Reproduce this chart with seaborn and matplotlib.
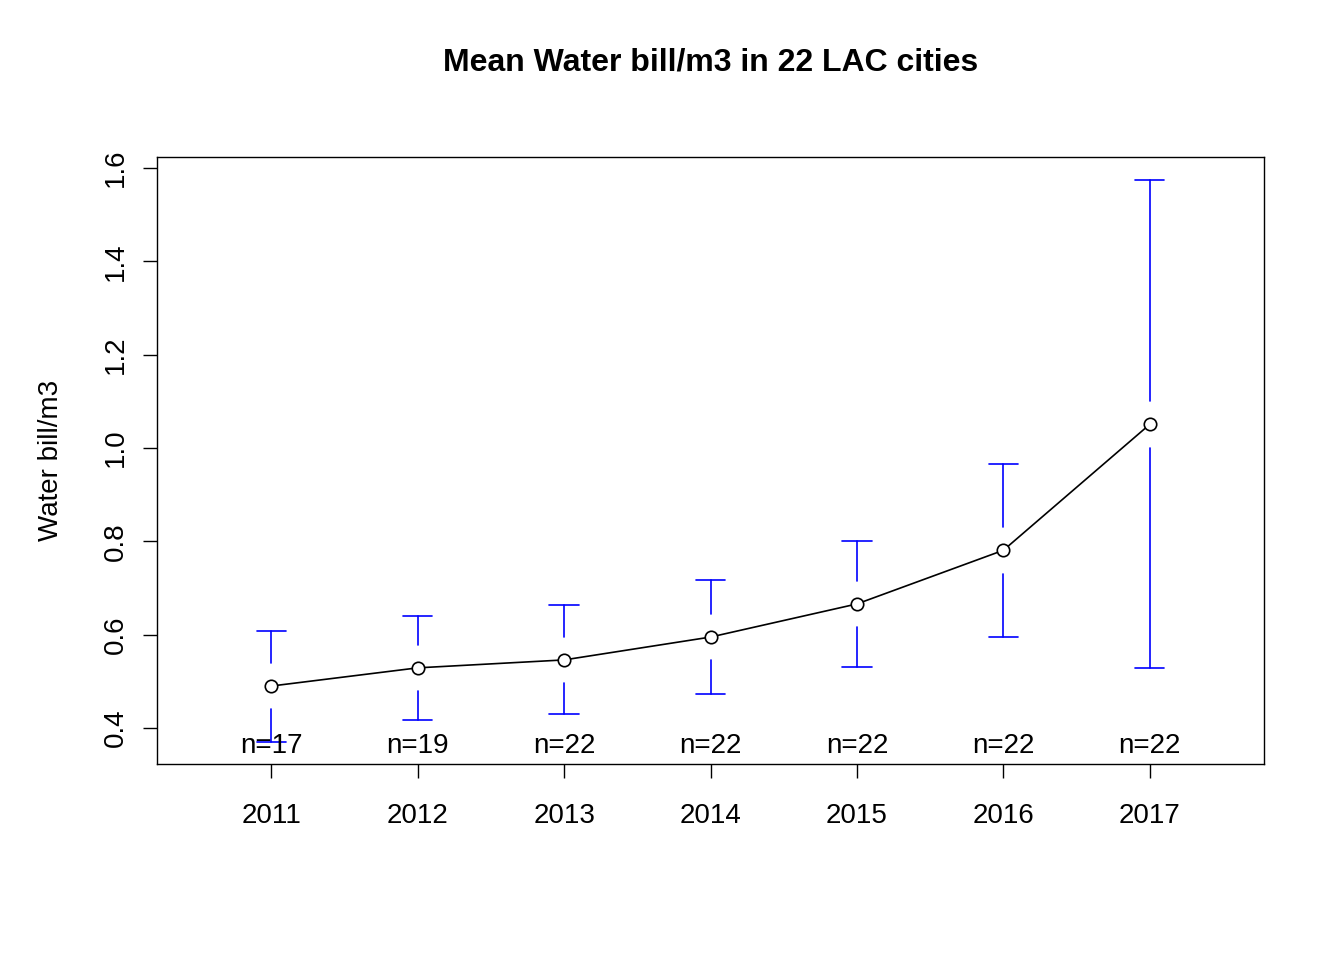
import numpy as np
import matplotlib
matplotlib.use('Agg')
import matplotlib.pyplot as plt
import seaborn as sns
import pandas as pd

years = ['2011', '2012', '2013', '2014', '2015', '2016', '2017']
means = [0.490, 0.529, 0.546, 0.595, 0.666, 0.781, 1.051]
upper = [0.608, 0.640, 0.664, 0.717, 0.801, 0.966, 1.574]
lower = [0.370, 0.417, 0.430, 0.473, 0.531, 0.595, 0.529]
counts = [17, 19, 22, 22, 22, 22, 22]

sns.set_style('ticks')
plt.rcParams['font.family'] = ['Liberation Sans', 'DejaVu Sans']
plt.rcParams['text.color'] = 'black'
plt.rcParams['axes.labelcolor'] = 'black'
plt.rcParams['xtick.color'] = 'black'
plt.rcParams['ytick.color'] = 'black'
plt.rcParams['axes.edgecolor'] = 'black'

fig = plt.figure(figsize=(13.44, 9.6), dpi=100)
ax = fig.add_axes([0.1168, 0.2042, 0.8237, 0.6323])

df = pd.DataFrame({'x': np.arange(1, len(years) + 1), 'y': means})
sns.lineplot(data=df, x='x', y='y', color='black', lw=1.2, ax=ax)
sns.scatterplot(data=df, x='x', y='y', marker='o', s=80, facecolor='white',
                edgecolor='black', linewidth=1.2, ax=ax, zorder=3)

gap = 0.05
cap = 0.1
for xi, m, lo, hi in zip(df['x'], means, lower, upper):
    if hi - m > gap:
        ax.plot([xi, xi], [m + gap, hi], color='blue', lw=1.2)
    if m - lo > gap:
        ax.plot([xi, xi], [lo, m - gap], color='blue', lw=1.2)
    ax.plot([xi - cap, xi + cap], [hi, hi], color='blue', lw=1.2)
    ax.plot([xi - cap, xi + cap], [lo, lo], color='blue', lw=1.2)

for xi, n in zip(df['x'], counts):
    ax.text(xi, 0.361, f'n={n}', ha='center', va='center', fontsize=20)

ax.set_xlim(0.22, 7.78)
ax.set_ylim(0.323, 1.624)
ax.set_xticks(df['x'])
ax.set_xticklabels(years, fontsize=20)
ax.set_yticks([0.4, 0.6, 0.8, 1.0, 1.2, 1.4, 1.6])
ax.set_yticklabels(['0.4', '0.6', '0.8', '1.0', '1.2', '1.4', '1.6'],
                   fontsize=20, rotation=90, va='center')
ax.tick_params(axis='x', length=10, pad=18, width=1)
ax.tick_params(axis='y', length=10, pad=10, width=1)
for s in ax.spines.values():
    s.set_visible(True)
    s.set_linewidth(1.0)
ax.set_xlabel('')
ax.set_ylabel('Water bill/m3', fontsize=20, labelpad=28)
ax.set_title('Mean Water bill/m3 in 22 LAC cities', fontsize=23,
             fontweight='bold', pad=62)

fig.savefig('out.png', dpi=100)
